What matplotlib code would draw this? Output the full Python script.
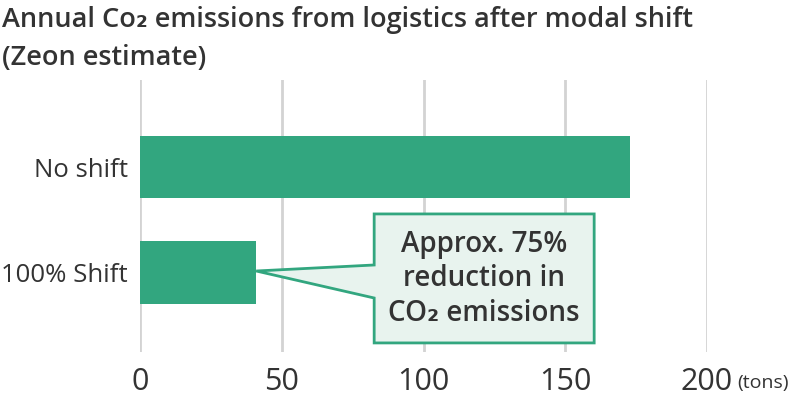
import matplotlib
matplotlib.use("Agg")
import matplotlib.pyplot as plt
from matplotlib.patches import Polygon

plt.rcParams['font.family'] = ['Open Sans', 'DejaVu Sans']

# data
categories = ["No shift", "100% Shift"]
emissions = [173, 41]
xticks = [0, 50, 100, 150, 200]

green = "#32a67f"
text_col = "#333333"

fig = plt.figure(figsize=(7.94, 3.96), dpi=100)
ax = fig.add_axes([140 / 794, 44 / 396, 567 / 794, 272 / 396])

ypos = list(range(len(categories)))
ax.barh(ypos, emissions, height=0.59, color=green, zorder=2)

ax.set_xlim(0, 200)
ax.set_ylim(1.754, -0.825)
ax.set_xticks(xticks)
ax.set_xticklabels([str(t) for t in xticks], fontsize=22, color=text_col)
ax.set_yticks(ypos)
ax.set_yticklabels(categories, fontsize=18.5, color=text_col)
ax.tick_params(axis="x", length=0, pad=11)
ax.tick_params(axis="y", length=0, pad=9)
for s in ax.spines.values():
    s.set_visible(False)
ax.grid(axis="x", color="#d3d3d3", linewidth=2, zorder=0)
ax.set_axisbelow(True)

# callout box with pointer to the shifted bar
bx0, bx1, by0, by1 = 82.6, 160.2, 0.445, 1.668
tip = (emissions[1], 0.986)
callout = Polygon([tip, (bx0, 0.929), (bx0, by0), (bx1, by0), (bx1, by1),
                   (bx0, by1), (bx0, 1.242)], closed=True,
                  facecolor="#e8f3ee", edgecolor=green, linewidth=2,
                  zorder=3, clip_on=False, joinstyle="miter")
ax.add_patch(callout)
ax.text((bx0 + bx1) / 2, 1.06, "Approx. 75%\nreduction in\nCO\u2082 emissions",
        ha="center", va="center", fontsize=20, fontweight="semibold",
        color=text_col, linespacing=1.25, zorder=4)

fig.text(737 / 794, 0.02, "(tons)", fontsize=14, color=text_col, va="baseline")

fig.text(0.002, 0.985, "Annual Co\u2082 emissions from logistics after modal shift\n(Zeon estimate)",
         ha="left", va="top", fontsize=19.5, fontweight="semibold", color=text_col,
         linespacing=1.5)

fig.savefig("out.png", dpi=100)
